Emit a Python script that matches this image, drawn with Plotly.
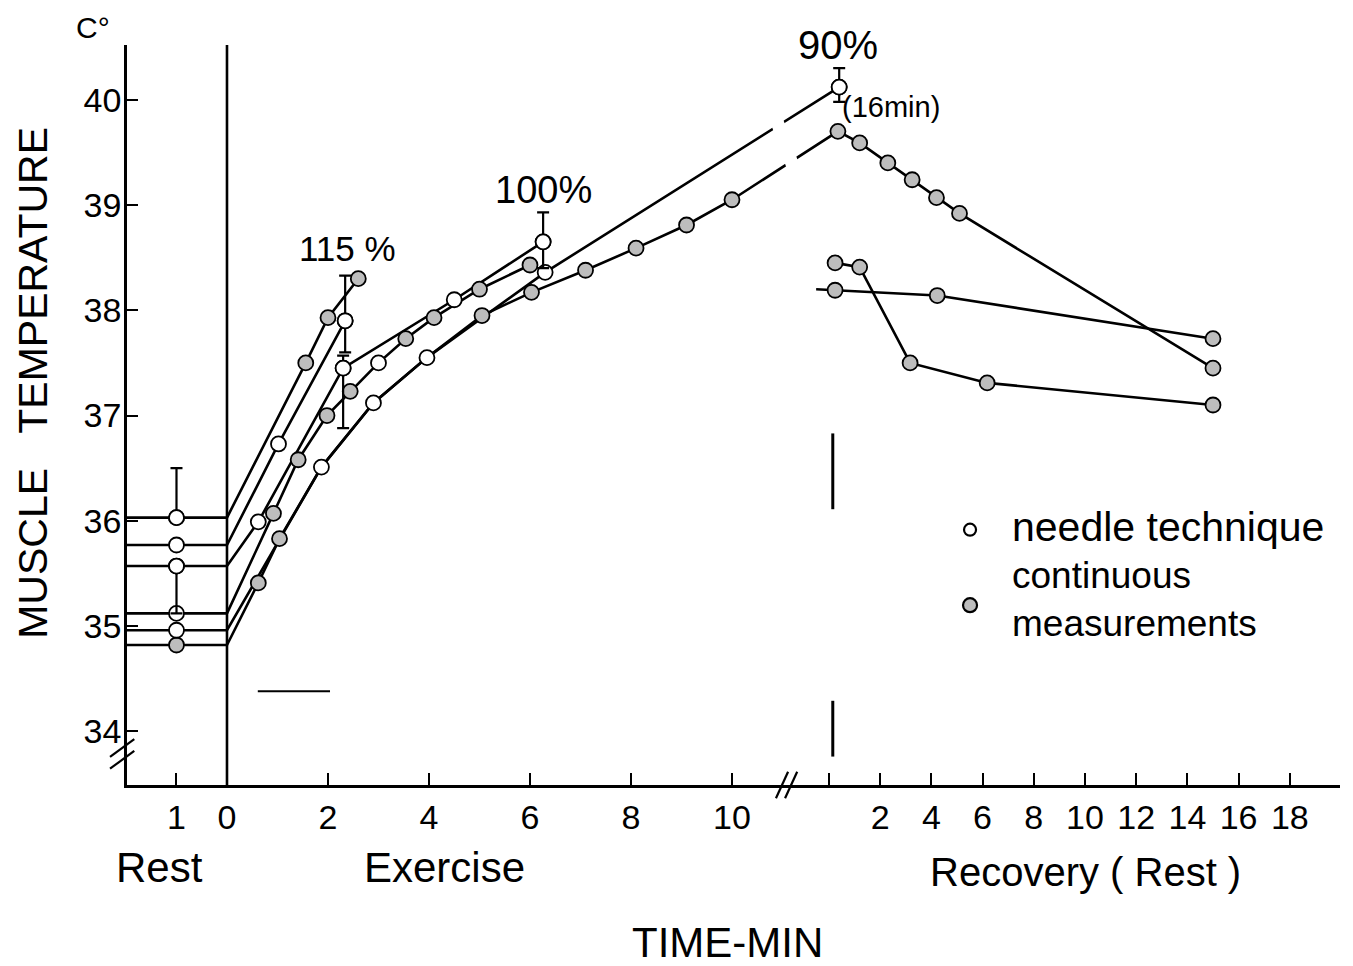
import plotly.graph_objects as go

# ---------------- data ----------------
# time axis: rest (min before exercise, negative), exercise (min), recovery (min, drawn at half scale after the break)
REC0 = 11.92       # axis position of recovery minute 0
REC_SCALE = 0.507  # recovery minutes are drawn at about half scale

def rx(r):
    return REC0 + REC_SCALE * r

rest_t = [-2, -1, 0]
rest_levels = [36.03, 35.77, 35.57, 35.12, 34.96, 34.82]
rest_kind = ['o', 'o', 'o', 'o', 'o', 's']
rest_err = [(0.47, 0.0), None, (0.0, 0.45), None, None, None]

# exercise 115 %
c115_t = [1.56, 2.0, 2.6]
c115_T = [37.5, 37.93, 38.3]
c115_k = ['s', 's', 's']

n115_t = [1.02, 2.34]
n115_T = [36.73, 37.9]
n115_k = ['o', 'o']
n115_err = [None, (0.43, 0.3)]

# exercise 100 %
n100_t = [0.62, 2.3, 4.5, 6.26]
n100_T = [35.99, 37.45, 38.1, 38.65]
n100_k = ['o', 'o', 'o', 'o']
n100_err = [None, (0.12, 0.57), None, (0.28, 0.25)]

c100_t = [0.92, 1.41, 1.98, 2.44, 3.0, 3.54, 4.1, 5.0, 6.0]
c100_T = [36.07, 36.58, 37.0, 37.23, 37.5, 37.73, 37.93, 38.2, 38.43]
c100_k = ['s', 's', 's', 's', 'o', 's', 's', 's', 's']

# exercise 90 % (16 min, end value plotted at start of recovery)
n90_t = [1.87, 2.9, 3.96, 6.3]
n90_T = [36.51, 37.12, 37.55, 38.36]
n90_k = ['o', 'o', 'o', 'o']
n90_end_r = [0.4]
n90_end_T = [40.12]
n90_end_err = [(0.18, 0.14)]

c90_t = [0.62, 1.04, 1.87, 2.9, 3.96, 5.05, 6.03, 7.1, 8.1, 9.1, 10.0]
c90_T = [35.41, 35.83, 36.51, 37.12, 37.55, 37.95, 38.17, 38.38, 38.59, 38.81, 39.05]
c90_k = ['s', 's', '', '', '', 's', 's', 's', 's', 's', 's']
c90_rec_r = [0.35, 1.2, 2.3, 3.25, 4.2, 5.1, 15.0]
c90_rec_T = [39.7, 39.59, 39.4, 39.24, 39.07, 38.92, 37.45]

# recovery after 115 % and 100 %
r115_r = [0.24, 1.2, 3.17, 6.18, 15.0]
r115_T = [38.45, 38.41, 37.5, 37.31, 37.1]
r100_r = [-0.5, 0.24, 4.23, 15.0]
r100_T = [38.2, 38.19, 38.14, 37.73]
r100_k = ['', 's', 's', 's']

# axis ticks
ex_tickvals = [-1, 0, 2, 4, 6, 8, 10]
ex_ticktext = ['1', '0', '2', '4', '6', '8', '10']
rec_tick_min = [0, 2, 4, 6, 8, 10, 12, 14, 16, 18, 20]
rec_ticktext = ['', '2', '4', '6', '8', '10', '12', '14', '16', '18', '']
y_ticks = [34, 35, 36, 37, 38, 39, 40]

legend_labels = ['needle technique', 'continuous<br>measurements']

# ---------------- build ----------------
FONT = "Liberation Sans"
LW = 2.6
MS = 15
SHADE = '#bdbdbd'
fig = go.Figure()

series = []  # (x, y, kinds, errs)
ex_list = [
    (c115_t, c115_T, c115_k, None),
    (n115_t, n115_T, n115_k, n115_err),
    (n100_t, n100_T, n100_k, n100_err),
    (c100_t, c100_T, c100_k, None),
    (n90_t + [rx(r) for r in n90_end_r], n90_T + n90_end_T, n90_k + ['o'], [None] * len(n90_t) + n90_end_err),
    (c90_t + [rx(r) for r in c90_rec_r], c90_T + c90_rec_T, c90_k + ['s'] * len(c90_rec_r), None),
]
for i, (t, T, k, e) in enumerate(ex_list):
    L = rest_levels[i]
    xs = list(rest_t) + list(t)
    ys = [L] * len(rest_t) + list(T)
    ks = ['', rest_kind[i], ''] + list(k)
    es = [None, rest_err[i], None] + (list(e) if e else [None] * len(t))
    series.append((xs, ys, ks, es))

series.append(([rx(r) for r in r115_r], r115_T, ['s'] * len(r115_r), [None] * len(r115_r)))
series.append(([rx(r) for r in r100_r], r100_T, r100_k, [None] * len(r100_r)))

# lines
for xs, ys, ks, es in series:
    fig.add_trace(go.Scatter(x=xs, y=ys, mode='lines', line=dict(color='black', width=LW),
                             showlegend=False, hoverinfo='skip'))

# white break in the long 90 % lines (time axis break)
fig.add_shape(type='line', x0=10.85, y0=39.85, x1=11.27, y1=39.28, xref='x', yref='y',
              line=dict(color='white', width=13), layer='above')

# markers
for kind, fill in (('s', SHADE), ('o', 'white')):
    mx, my = [], []
    for xs, ys, ks, es in series:
        for x, y, k in zip(xs, ys, ks):
            if k == kind:
                mx.append(x); my.append(y)
    fig.add_trace(go.Scatter(x=mx, y=my, mode='markers', showlegend=False, hoverinfo='skip',
                             marker=dict(symbol='circle', size=MS, color=fill,
                                         line=dict(color='black', width=1.8))))

# error bars (needle technique, mean +/- SD)
ex, ey, ep, em = [], [], [], []
for xs, ys, ks, es in series:
    for x, y, e in zip(xs, ys, es):
        if e:
            ex.append(x); ey.append(y); ep.append(e[0]); em.append(e[1])
fig.add_trace(go.Scatter(x=ex, y=ey, mode='markers', showlegend=False, hoverinfo='skip',
                         marker=dict(symbol='circle', size=MS, color='white',
                                     line=dict(color='black', width=1.8)),
                         error_y=dict(type='data', symmetric=False, array=ep, arrayminus=em,
                                      color='black', thickness=2.2, width=6)))

# start-of-exercise vertical line
fig.add_shape(type='line', x0=0, x1=0, xref='x', y0=0, y1=1, yref='paper',
              line=dict(color='black', width=LW))
# marks at end of exercise / start of recovery
fig.add_shape(type='line', x0=rx(0.15), x1=rx(0.15), y0=36.11, y1=36.83, xref='x', yref='y',
              line=dict(color='black', width=3))
fig.add_shape(type='line', x0=rx(0.15), x1=rx(0.15), y0=33.76, y1=34.29, xref='x', yref='y',
              line=dict(color='black', width=3))
fig.add_shape(type='line', x0=0.61, x1=2.04, y0=34.38, y1=34.38, xref='x', yref='y',
              line=dict(color='black', width=2))

# axis break marks
for dx in (0.0, 0.0075):
    fig.add_shape(type='line', xref='paper', yref='paper', x0=0.535 + dx, y0=-0.018, x1=0.545 + dx, y1=0.018,
                  line=dict(color='black', width=2.2))
for dy in (0.0, 0.016):
    fig.add_shape(type='line', xref='paper', yref='paper', x0=-0.014, y0=0.022 + dy, x1=0.006, y1=0.046 + dy,
                  line=dict(color='black', width=2.2))

# legend key symbols (drawn as pixel-sized circles)
for (py, d, fill) in ((0.345, 12, 'white'), (0.243, 14, SHADE)):
    fig.add_shape(type='circle', xref='paper', yref='paper', xsizemode='pixel', ysizemode='pixel',
                  xanchor=0.695, yanchor=py, x0=-d / 2, x1=d / 2, y0=-d / 2, y1=d / 2,
                  fillcolor=fill, line=dict(color='black', width=2.2))

# text
def ann(text, x, y, size, xref='paper', yref='paper', xanchor='center', yanchor='middle', **kw):
    fig.add_annotation(text=text, x=x, y=y, xref=xref, yref=yref, showarrow=False,
                       xanchor=xanchor, yanchor=yanchor,
                       font=dict(family=FONT, size=size, color='black'), **kw)

ann('C°', -0.028, 1.024, 30)
ann('MUSCLE\u00a0\u00a0\u00a0TEMPERATURE', -0.077, 0.543, 41, textangle=-90)
ann('Rest', 0.027, -0.112, 42)
ann('Exercise', 0.262, -0.112, 42)
ann('Recovery ( Rest )', 0.79, -0.118, 40)
ann('TIME-MIN', 0.495, -0.2135, 42)
ann('115 %', 2.38, 38.59, 35, xref='x', yref='y')
ann('100%', 6.26, 39.14, 38, xref='x', yref='y')
ann('90%', 12.1, 40.52, 40, xref='x', yref='y')
ann('(16min)', 13.15, 39.93, 29, xref='x', yref='y')
ann(legend_labels[0], 0.728, 0.3486, 41, xanchor='left')
ann(legend_labels[1], 0.728, 0.251, 37, xanchor='left', align='left')

# the page adds an 8px body margin, so the margins are trimmed by 8px on top/left
fig.update_layout(
    width=1353, height=966, autosize=False,
    margin=dict(l=119, r=21, t=37, b=189),
    paper_bgcolor='white', plot_bgcolor='white',
    showlegend=False,
    font=dict(family=FONT, color='black'),
    xaxis=dict(range=[-1.98, 22.04], showgrid=False, zeroline=False, showline=True,
               linecolor='black', linewidth=LW, ticks='inside', ticklen=12, tickwidth=2.2,
               tickcolor='black',
               tickvals=ex_tickvals + [rx(r) for r in rec_tick_min],
               ticktext=ex_ticktext + rec_ticktext,
               tickfont=dict(family=FONT, size=34, color='black'), ticklabelstandoff=0),
    yaxis=dict(range=[33.49, 40.52], showgrid=False, zeroline=False, showline=True,
               linecolor='black', linewidth=LW, ticks='inside', ticklen=11, tickwidth=2.2,
               tickcolor='black', tickvals=y_ticks, ticklabelstandoff=-4,
               tickfont=dict(family=FONT, size=34, color='black')),
)

fig.write_html("out.html")
